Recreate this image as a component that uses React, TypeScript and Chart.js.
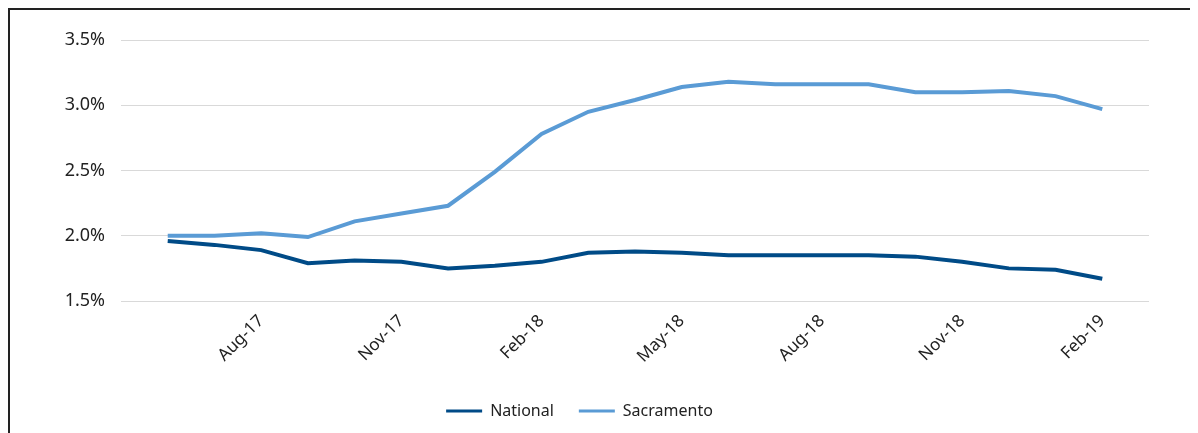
import React, { useEffect, useRef } from "react";
import { Chart, registerables } from "chart.js";

Chart.register(...registerables);

const months: string[] = [
  "May-17", "Jun-17", "Jul-17", "Aug-17", "Sep-17", "Oct-17", "Nov-17", "Dec-17",
  "Jan-18", "Feb-18", "Mar-18", "Apr-18", "May-18", "Jun-18", "Jul-18", "Aug-18",
  "Sep-18", "Oct-18", "Nov-18", "Dec-18", "Jan-19", "Feb-19", "Mar-19",
];

const national: (number | null)[] = [
  null, 1.96, 1.93, 1.89, 1.79, 1.81, 1.80, 1.75, 1.77, 1.80, 1.87, 1.88,
  1.87, 1.85, 1.85, 1.85, 1.85, 1.84, 1.80, 1.75, 1.74, 1.67, null,
];

const sacramento: (number | null)[] = [
  null, 2.00, 2.00, 2.02, 1.99, 2.11, 2.17, 2.23, 2.49, 2.78, 2.95, 3.04,
  3.14, 3.18, 3.16, 3.16, 3.16, 3.10, 3.10, 3.11, 3.07, 2.97, null,
];

const yTicks: number[] = [1.5, 2.0, 2.5, 3.0, 3.5];

const FONT = "'Noto Sans', 'Open Sans', sans-serif";

export default function App() {
  const ref = useRef<HTMLCanvasElement | null>(null);

  useEffect(() => {
    if (!ref.current) return;
    const chart = new Chart(ref.current, {
      type: "line",
      data: {
        labels: months,
        datasets: [
          {
            label: "National",
            data: national,
            borderColor: "#004B87",
            backgroundColor: "#004B87",
            borderWidth: 4,
            pointRadius: 0,
            tension: 0,
          },
          {
            label: "Sacramento",
            data: sacramento,
            borderColor: "#5A9BD5",
            backgroundColor: "#5A9BD5",
            borderWidth: 4,
            pointRadius: 0,
            tension: 0,
          },
        ],
      },
      options: {
        animation: false,
        responsive: true,
        maintainAspectRatio: false,
        layout: { padding: { left: 0, right: 49, top: 30, bottom: 4 } },
        plugins: {
          legend: {
            position: "bottom",
            labels: {
              boxWidth: 36,
              boxHeight: 3,
              padding: 25,
              color: "#222",
              font: { family: FONT, size: 16 },
              generateLabels: (c: any) =>
                Chart.defaults.plugins.legend.labels
                  .generateLabels(c)
                  .map((l: any) => ({ ...l, lineWidth: 0 })),
            },
          },
          tooltip: { enabled: false },
        },
        scales: {
          x: {
            offset: false,
            grid: { display: false, drawTicks: false },
            border: { display: false },
            ticks: {
              autoSkip: false,
              maxRotation: 45,
              minRotation: 45,
              padding: 10,
              color: "#222",
              font: { family: FONT, size: 17 },
              callback: (_v: any, i: number) =>
                i > 0 && i < months.length - 1 && i % 3 === 0 ? months[i] : "",
            },
            afterFit: (s: any) => {
              s.height = 77;
            },
          },
          y: {
            min: 1.5,
            max: 3.5,
            afterBuildTicks: (s: any) => {
              s.ticks = yTicks.map((v) => ({ value: v }));
            },
            grid: { color: "#d9d9d9", lineWidth: 1, drawTicks: false },
            border: { display: false },
            ticks: {
              padding: 16,
              color: "#222",
              font: { family: FONT, size: 18 },
              callback: (v: any) => Number(v).toFixed(1) + "%",
            },
            afterFit: (s: any) => {
              s.width = 111;
            },
          },
        },
      },
    });
    return () => chart.destroy();
  }, []);

  return (
    <div
      style={{
        width: 1188,
        height: 423,
        borderTop: "2px solid #222",
        borderLeft: "2px solid #222",
        position: "relative",
        overflow: "hidden",
      }}
    >
      <div style={{ position: "absolute", left: 0, top: 0, width: 1188, height: 423 }}>
        <canvas ref={ref} />
      </div>
    </div>
  );
}
